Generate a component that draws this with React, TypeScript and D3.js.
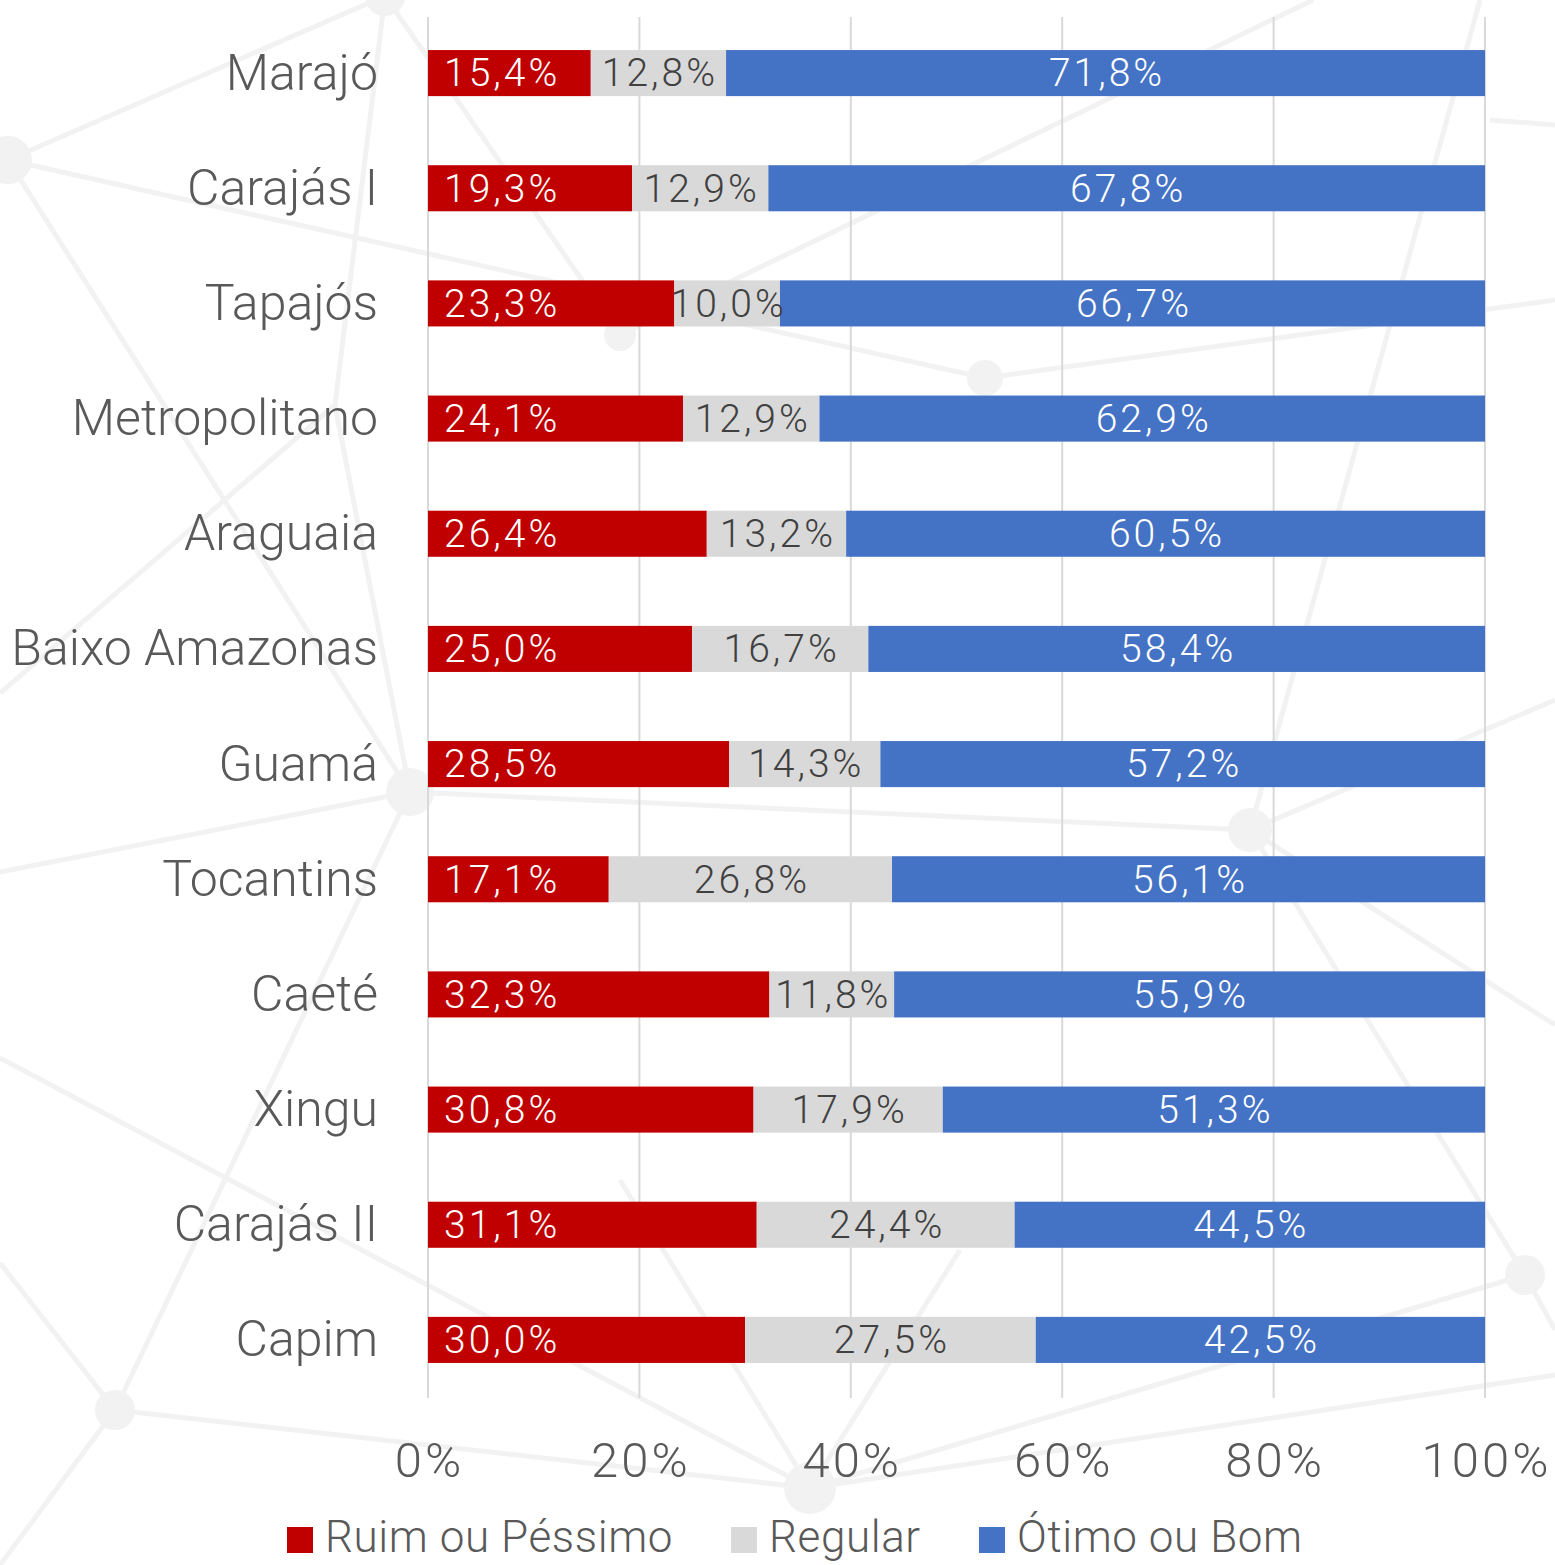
import React from "react";
import * as d3 from "d3";

const categories = ["Marajó", "Carajás I", "Tapajós", "Metropolitano", "Araguaia", "Baixo Amazonas", "Guamá", "Tocantins", "Caeté", "Xingu", "Carajás II", "Capim"];
const ruim = [15.4, 19.3, 23.3, 24.1, 26.4, 25.0, 28.5, 17.1, 32.3, 30.8, 31.1, 30.0];
const regular = [12.8, 12.9, 10.0, 12.9, 13.2, 16.7, 14.3, 26.8, 11.8, 17.9, 24.4, 27.5];
const otimo = [71.8, 67.8, 66.7, 62.9, 60.5, 58.4, 57.2, 56.1, 55.9, 51.3, 44.5, 42.5];
const seriesNames = ["Ruim ou Péssimo", "Regular", "Ótimo ou Bom"];
const seriesKeys = ["ruim", "regular", "otimo"];
const seriesColors = ["#C00000", "#D9D9D9", "#4472C4"];
const labelColors = ["#FFFFFF", "#404040", "#FFFFFF"];
const tickValues = [0, 0.2, 0.4, 0.6, 0.8, 1];

// decorative background network (not data)
const bgNodes: [number, number, number][] = [
  [8, 160, 24], [385, -4, 20], [620, 335, 16], [985, 378, 18], [410, 792, 24],
  [1250, 830, 22], [1525, 1275, 20], [115, 1410, 20], [810, 1488, 26],
];
const bgEdges: [number, number, number, number][] = [
  [8, 160, 385, -4], [8, 160, 985, 378], [8, 160, 410, 792],
  [385, -4, 620, 335], [385, -4, 335, 405], [620, 335, 1313, 0],
  [335, 405, 0, 693], [335, 405, 410, 792], [0, 872, 410, 792], [410, 792, 1250, 830],
  [410, 792, 115, 1410], [985, 378, 1555, 300], [1480, 0, 1250, 830], [1250, 830, 1555, 700],
  [1250, 830, 1525, 1275], [0, 1058, 810, 1488], [0, 1263, 115, 1410], [115, 1410, 0, 1565],
  [115, 1410, 810, 1488], [810, 1488, 1525, 1275], [810, 1488, 620, 1180], [810, 1488, 960, 1250],
  [1525, 1275, 1555, 1330], [810, 1488, 1555, 1375], [1555, 1025, 1250, 830], [1490, 120, 1555, 125],
];

const W = 1555;
const H = 1565;
const FONT = "Roboto, 'Helvetica Neue', Arial, sans-serif";

export default function App() {
  const rows = categories.map((c, i) => ({ cat: c, ruim: ruim[i], regular: regular[i], otimo: otimo[i] }));
  const stack = d3.stack<any>().keys(seriesKeys).offset(d3.stackOffsetExpand);
  const stacked = stack(rows);

  const x = d3.scaleLinear().domain([0, 1]).range([428, 1485]);
  const y = d3.scaleBand<string>().domain(categories).range([15.5, 1397.5]).paddingInner(0.6).paddingOuter(0.3);
  const bw = y.bandwidth();
  const fmt = (v: number) => v.toFixed(1).replace(".", ",") + "%";
  const rawVals = [ruim, regular, otimo];

  const legendX = [287, 731, 979];

  return (
    <svg width={W} height={H} style={{ position: "absolute", left: 0, top: 0, background: "#fff" }} fontFamily={FONT}>
      <g stroke="#F2F2F2" strokeWidth={5} fill="none">
        {bgEdges.map((e, i) => (
          <line key={i} x1={e[0]} y1={e[1]} x2={e[2]} y2={e[3]} />
        ))}
      </g>
      <g fill="#F2F2F2">
        {bgNodes.map((n, i) => (
          <circle key={i} cx={n[0]} cy={n[1]} r={n[2]} />
        ))}
      </g>
      <g stroke="#D9D9D9" strokeWidth={2}>
        {tickValues.map((t) => (
          <line key={t} x1={x(t)} x2={x(t)} y1={17} y2={1398} />
        ))}
      </g>
      {stacked.map((s, si) => (
        <g key={si} fill={seriesColors[si]}>
          {s.map((d, i) => (
            <rect key={i} x={x(d[0])} y={y(categories[i])!} width={x(d[1]) - x(d[0])} height={bw} />
          ))}
        </g>
      ))}
      {stacked.map((s, si) => (
        <g key={"l" + si} fill={labelColors[si]} fontSize={39} fontWeight={300} letterSpacing={3}>
          {s.map((d, i) => {
            const cy = y(categories[i])! + bw / 2;
            const isBase = si === 0;
            const tx = isBase ? x(d[0]) + 16 : (x(d[0]) + x(d[1])) / 2 + 1.5;
            return (
              <text key={i} x={tx} y={cy} dy="0.34em" textAnchor={isBase ? "start" : "middle"}>
                {fmt(rawVals[si][i])}
              </text>
            );
          })}
        </g>
      ))}
      <g fill="#595959" fontSize={50} fontWeight={300}>
        {categories.map((c) => (
          <text key={c} x={378} y={y(c)! + bw / 2} dy="0.33em" textAnchor="end">
            {c}
          </text>
        ))}
      </g>
      <g fill="#595959" fontSize={49} fontWeight={300} letterSpacing={3}>
        {tickValues.map((t) => (
          <text key={t} x={x(t) + 1.5} y={1477} textAnchor="middle">
            {d3.format(".0%")(t)}
          </text>
        ))}
      </g>
      <g fontSize={44} fontWeight={300} fill="#595959">
        {seriesNames.map((n, i) => (
          <g key={n}>
            <rect x={legendX[i]} y={1527} width={26} height={26} fill={seriesColors[i]} />
            <text x={legendX[i] + 38} y={1552} letterSpacing={0.6}>
              {n}
            </text>
          </g>
        ))}
      </g>
    </svg>
  );
}
